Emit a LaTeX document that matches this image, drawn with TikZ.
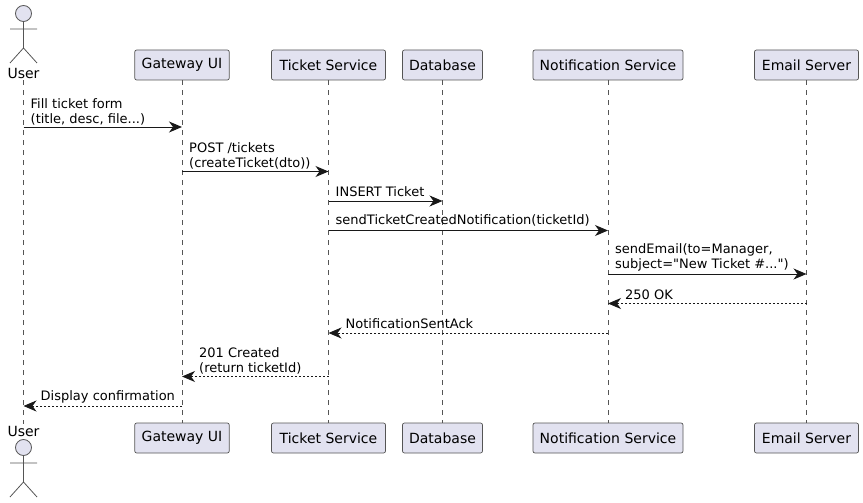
\documentclass[tikz,border=0pt]{standalone}
\usepackage{fontspec}
\setmainfont[Ligatures=TeXOff]{DejaVu Sans}
\usetikzlibrary{arrows.meta}
\definecolor{partfill}{HTML}{E2E2F0}
\definecolor{partline}{HTML}{181818}
\definecolor{lifegrey}{HTML}{555555}
\tikzset{
    part/.style = {draw=lifegrey, fill=partfill, rounded corners=2pt, line width=0.7pt, minimum height=30pt, inner sep=0pt, font=\fontsize{14}{16}\selectfont},
    actorname/.style = {inner sep=0pt, minimum height=14pt, font=\fontsize{14}{16}\selectfont},
    actorline/.style = {draw=lifegrey, line width=0.8pt},
    lifeline/.style = {draw=lifegrey, line width=0.7pt, dash pattern=on 5pt off 5pt},
    call/.style = {draw=partline, line width=1pt, -{Stealth[length=13pt,width=11pt,inset=4pt]}},
    reply/.style = {call, dash pattern=on 2pt off 2pt},
    msg/.style = {inner sep=0pt, anchor=south west, align=left, font=\fontsize{13}{15}\selectfont}
}
\begin{document}
\begin{tikzpicture}[x=1pt,y=-1pt]
    \useasboundingbox (0,0) rectangle (863,503);

    \node[actorname] (usertop) at (23.5,73) {User};
    \node[part,minimum width=94.5pt] (gatewaytop) at (182,65) {Gateway UI};
    \node[part,minimum width=114pt] (tickettop) at (328.5,65) {Ticket Service};
    \node[part,minimum width=80pt] (dbtop) at (442.5,65) {Database};
    \node[part,minimum width=150pt] (notiftop) at (608,65) {Notification Service};
    \node[part,minimum width=104pt] (mailtop) at (806.5,65) {Email Server};

    \node[actorname] (userbot) at (23.5,431) {User};
    \node[part,minimum width=94.5pt] (gatewaybot) at (182,438) {Gateway UI};
    \node[part,minimum width=114pt] (ticketbot) at (328.5,438) {Ticket Service};
    \node[part,minimum width=80pt] (dbbot) at (442.5,438) {Database};
    \node[part,minimum width=150pt] (notifbot) at (608,438) {Notification Service};
    \node[part,minimum width=104pt] (mailbot) at (806.5,438) {Email Server};

    \draw[lifeline] (usertop) -- (userbot);
    \draw[lifeline] (gatewaytop) -- (gatewaybot);
    \draw[lifeline] (tickettop) -- (ticketbot);
    \draw[lifeline] (dbtop) -- (dbbot);
    \draw[lifeline] (notiftop) -- (notifbot);
    \draw[lifeline] (mailtop) -- (mailbot);

    % actor figures
    \node[circle,actorline,fill=partfill,minimum size=16pt,inner sep=0pt] (headtop) at (23.5,13.5) {};
    \draw[actorline] (headtop.south) -- (23.5,48) (10,29) -- (37,29) (10,63) -- (23.5,48) -- (37,63);
    \node[circle,actorline,fill=partfill,minimum size=16pt,inner sep=0pt] (headbot) at (23.5,447.5) {};
    \draw[actorline] (headbot.south) -- (23.5,482) (10,463) -- (37,463) (10,497) -- (23.5,482) -- (37,497);

    % message ends
    \coordinate (fillS) at (23.5,127);    \coordinate (fillE) at (182,127);
    \coordinate (postS) at (182,171.5);   \coordinate (postE) at (328.5,171.5);
    \coordinate (insS) at (328.5,201);    \coordinate (insE) at (442.5,201);
    \coordinate (sendS) at (328.5,230.5); \coordinate (sendE) at (608,230.5);
    \coordinate (mailS) at (608,274);     \coordinate (mailE) at (806.5,274);
    \coordinate (okS) at (806.5,303.5);   \coordinate (okE) at (608,303.5);
    \coordinate (ackS) at (608,333);      \coordinate (ackE) at (328.5,333);
    \coordinate (madeS) at (328.5,376.5); \coordinate (madeE) at (182,376.5);
    \coordinate (showS) at (182,406);     \coordinate (showE) at (23.5,406);

    \draw[call] (fillS) -- (fillE);
    \draw[call] (postS) -- (postE);
    \draw[call] (insS) -- (insE);
    \draw[call] (sendS) -- (sendE);
    \draw[call] (mailS) -- (mailE);
    \draw[reply] (okS) -- (okE);
    \draw[reply] (ackS) -- (ackE);
    \draw[reply] (madeS) -- (madeE);
    \draw[reply] (showS) -- (showE);

    \node[msg] (fillL) at (30.5,125) {Fill ticket form\\(title, desc, file...)};
    \node[msg] (postL) at (189,169) {POST /tickets\\(createTicket(dto))};
    \node[msg] (insL) at (335.5,197) {INSERT Ticket};
    \node[msg] (sendL) at (335.5,226.5) {sendTicketCreatedNotification(ticketId)};
    \node[msg] (mailL) at (615,271) {sendEmail(to=Manager,\\subject="New Ticket \#...")};
    \node[msg] (okL) at (625,299.5) {250 OK};
    \node[msg] (ackL) at (345.5,329) {NotificationSentAck};
    \node[msg] (madeL) at (199,374) {201 Created\\(return ticketId)};
    \node[msg] (showL) at (40.5,403) {Display confirmation};
\end{tikzpicture}
\end{document}
